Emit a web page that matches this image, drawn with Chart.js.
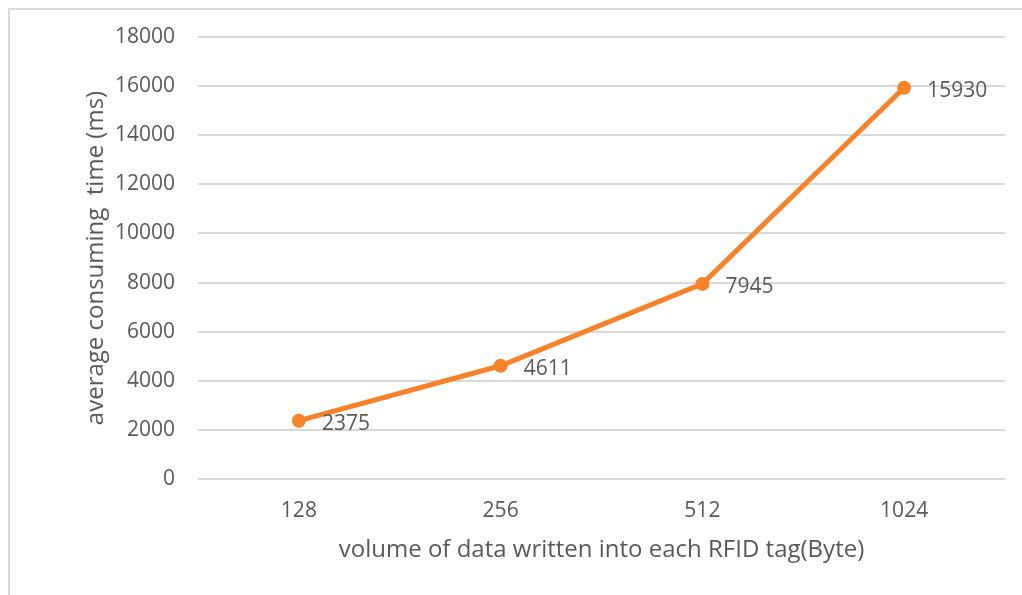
<!DOCTYPE html>
<html>
<head>
<meta charset="utf-8">
<script src="https://cdn.jsdelivr.net/npm/chart.js@4"></script>
<style>
  html, body { margin: 0; padding: 0; background: #fff; }
  #wrap { width: 1022px; height: 595px; }
</style>
</head>
<body>
<div id="wrap"><canvas id="myChart" width="1022" height="595"></canvas></div>
<script>
// chart data
const sizes = ["128", "256", "512", "1024"];
const times = [2375, 4611, 7945, 15930];
const yMin = 0, yMax = 18000, yStep = 2000;

const textColor = "#595959";
const gridColor = "#d9d9d9";
const lineColor = "#F8822A";
const font = "'Open Sans', Lato, sans-serif";
const tickSize = 21;
const titleSize = 24;

// light frame round the chart, like the office chart border
const framePlugin = {
  id: "frame",
  beforeDraw(chart) {
    const ctx = chart.ctx;
    ctx.save();
    ctx.strokeStyle = gridColor;
    ctx.lineWidth = 2;
    ctx.strokeRect(9, 9, 1200, 1200);
    ctx.restore();
  }
};

// value labels to the right of each point
const labelPlugin = {
  id: "pointLabels",
  afterDatasetsDraw(chart) {
    const ctx = chart.ctx;
    const meta = chart.getDatasetMeta(0);
    ctx.save();
    ctx.font = tickSize + "px " + font;
    ctx.fillStyle = textColor;
    ctx.textAlign = "left";
    ctx.textBaseline = "middle";
    meta.data.forEach((pt, i) => {
      ctx.fillText(String(chart.data.datasets[0].data[i]), pt.x + 23, pt.y + 3);
    });
    ctx.restore();
  }
};

new Chart("myChart", {
  type: "line",
  data: {
    labels: sizes,
    datasets: [{
      data: times,
      borderColor: lineColor,
      backgroundColor: lineColor,
      borderWidth: 5,
      pointRadius: 7,
      pointHoverRadius: 7,
      pointBackgroundColor: lineColor,
      pointBorderWidth: 0,
      tension: 0
    }]
  },
  options: {
    responsive: false,
    animation: false,
    devicePixelRatio: 1,
    layout: { padding: { left: 82, right: 17, top: 37, bottom: 30 } },
    plugins: {
      legend: { display: false },
      tooltip: { enabled: false }
    },
    scales: {
      x: {
        offset: true,
        grid: { display: false, drawTicks: false },
        border: { display: false },
        ticks: { color: textColor, font: { family: font, size: tickSize }, padding: 19 },
        title: {
          display: true,
          text: "volume of data written into each RFID tag(Byte)",
          color: textColor,
          font: { family: font, size: titleSize },
          padding: { top: 2, bottom: 0 }
        },
        afterFit(scale) { scale.height = 595 - 479 - 30; }
      },
      y: {
        min: yMin,
        max: yMax,
        grid: { color: gridColor, lineWidth: 2, drawTicks: false },
        border: { display: false },
        ticks: {
          stepSize: yStep,
          color: textColor,
          font: { family: font, size: tickSize },
          padding: 23,
          callback: (v) => String(v)
        },
        title: {
          display: true,
          text: "average consuming  time (ms)",
          color: textColor,
          font: { family: font, size: titleSize },
          padding: { top: 0, bottom: 0 }
        },
        afterFit(scale) { scale.width = 198 - 82; }
      }
    }
  },
  plugins: [framePlugin, labelPlugin]
});
</script>
</body>
</html>
